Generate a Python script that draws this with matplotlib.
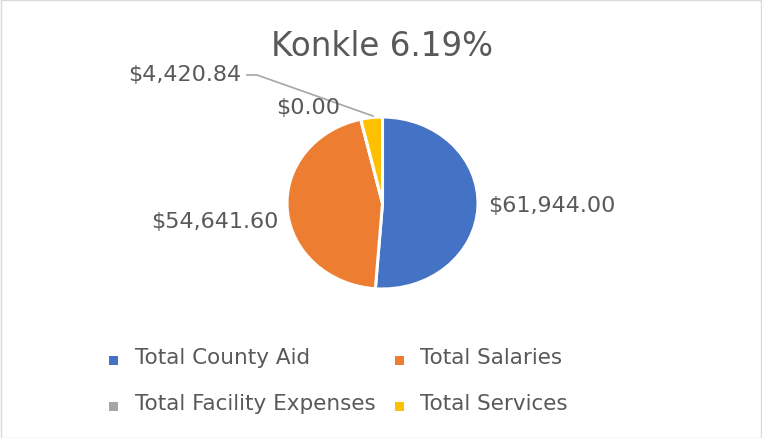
import matplotlib
matplotlib.use("Agg")
import matplotlib.pyplot as plt
from matplotlib.patches import Rectangle

categories = ["Total County Aid", "Total Salaries", "Total Facility Expenses", "Total Services"]
values = [61944.00, 54641.60, 0.00, 4420.84]
colors = ["#4472C4", "#ED7D31", "#A5A5A5", "#FFC000"]
title = "Konkle 6.19%"

W, H = 762, 439
fig = plt.figure(figsize=(W/100, H/100), dpi=100)
plt.rcParams['font.family'] = ['DejaVu Sans']

def fx(x): return x / W
def fy(y): return 1 - y / H

# pie axes: ellipse spanning px 287..478 horizontally, 118..290 vertically
ax = fig.add_axes([fx(287), fy(290), (478-287)/W, (290-118)/H])
wedges, _ = ax.pie(values, colors=colors, startangle=90, counterclock=False,
                   wedgeprops=dict(edgecolor="white", linewidth=2.2))
ax.set_aspect('auto')
ax.set_xlim(-1.0, 1.0)
ax.set_ylim(-1.0, 1.0)
ax.axis('off')

txtc = "#595959"
fig.text(fx(382), fy(47), title, ha='center', va='center', fontsize=23.5, color=txtc)

def money(v):
    return "${:,.2f}".format(v)

lab_pos = [(552, 206), (215, 222), (308, 108), (185, 75)]
for v, (x, y) in zip(values, lab_pos):
    fig.text(fx(x), fy(y), money(v), ha='center', va='center', fontsize=16, color=txtc)

# leader line for Services label
fig.add_artist(plt.Line2D([fx(247), fx(257), fx(373)], [fy(76), fy(76), fy(117)],
                          color="#A6A6A6", linewidth=1.2))

# legend
leg_items = [(113.5, 358), (399, 358), (113.5, 404), (399, 404)]
text_dx = [21.5, 21, 21.5, 21]
for (x, y), dx, c, name in zip(leg_items, text_dx, colors, categories):
    fig.add_artist(Rectangle((fx(x-4.5), fy(y+7.5)), 9/W, 9/H, facecolor=c, edgecolor='none',
                             transform=fig.transFigure))
    fig.text(fx(x+dx), fy(y), name, ha='left', va='center', fontsize=15.5, color=txtc)

# outer border
fig.add_artist(Rectangle((0.5/W, 0.5/H), 1 - 1.5/W, 1 - 1.5/H, facecolor='none',
                         edgecolor="#D9D9D9", linewidth=1, transform=fig.transFigure))

fig.savefig("out.png", dpi=100)
